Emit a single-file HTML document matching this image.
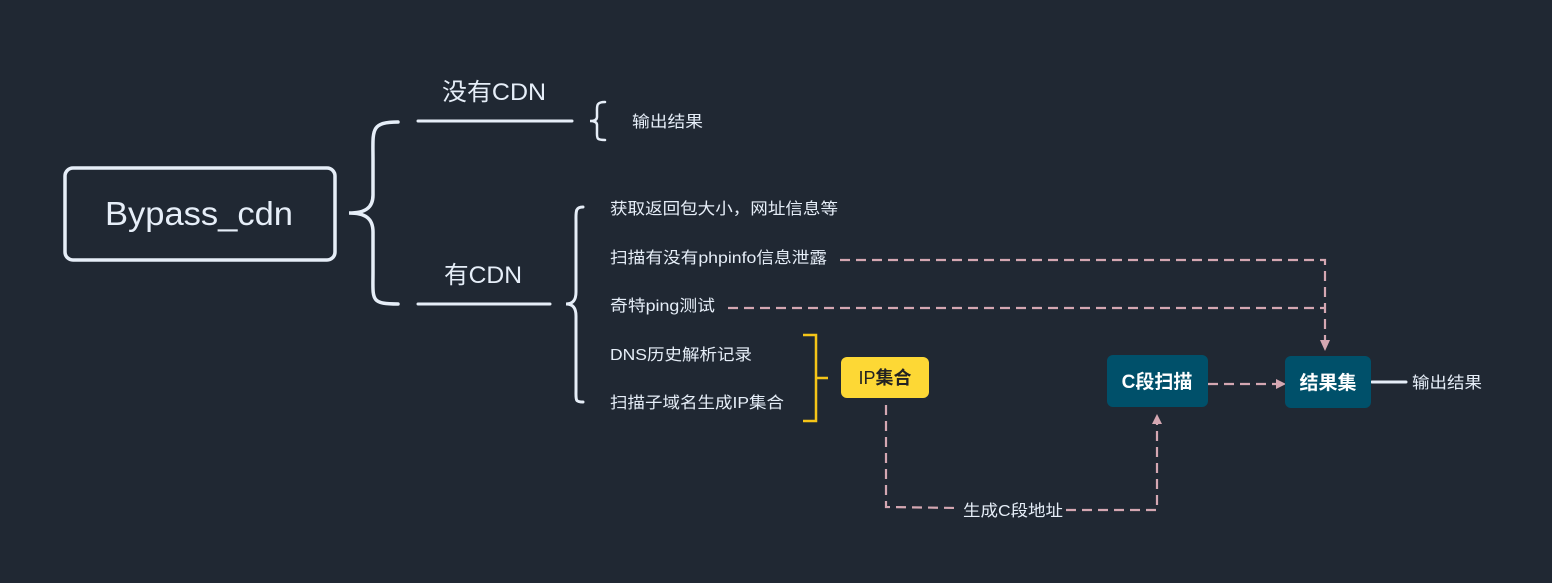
<!DOCTYPE html>
<html><head><meta charset="utf-8"><style>
html,body{margin:0;padding:0;background:#202833;}
svg{display:block;}
text{font-family:"Liberation Sans","Noto Sans CJK SC",sans-serif;}
</style></head><body>
<svg width="1552" height="583" viewBox="0 0 1552 583" xmlns="http://www.w3.org/2000/svg">
<rect width="1552" height="583" fill="#202833"/>
<g fill="none" stroke="#e6eef8" stroke-linecap="round">
<rect x="65" y="168" width="270" height="92" rx="8" stroke-width="3.5"/>
<path d="M398 122 C370 122 373 130 373 160 L373 195 C373 208 365 213 349 213 C365 213 373 218 373 232 L373 272 C373 300 370 304 398 304" stroke-width="3.5"/>
<line x1="418" y1="121" x2="572" y2="121" stroke-width="3"/>
<line x1="418" y1="304" x2="550" y2="304" stroke-width="3"/>
<path d="M605 102 C596 102 597 106 597 112 L597 117 C597 120 594 121 590 121 C594 121 597 122 597 125 L597 131 C597 138 596 140 605 140" stroke-width="2.5"/>
<path d="M583 207 C575 207 576 212 576 222 L576 292 C576 300 573 304 566 304 C573 304 576 308 576 316 L576 390 C576 400 575 402 583 402" stroke-width="3"/>
<line x1="1372" y1="382" x2="1406" y2="382" stroke-width="3"/>
</g>
<path d="M803 335 L816 335 L816 421 L803 421 M816 378 L828 378" fill="none" stroke="#f5c518" stroke-width="2.5"/>
<g fill="#e6eef8">
<text x="105" y="225" font-size="33" textLength="188" lengthAdjust="spacingAndGlyphs">Bypass_cdn</text>
<text x="442" y="100" font-size="24" textLength="104" lengthAdjust="spacingAndGlyphs">没有CDN</text>
<text x="444" y="283" font-size="24" textLength="78" lengthAdjust="spacingAndGlyphs">有CDN</text>
<text x="632" y="127" font-size="16" textLength="71" lengthAdjust="spacingAndGlyphs">输出结果</text>
<text x="610" y="214" font-size="16" textLength="228" lengthAdjust="spacingAndGlyphs">获取返回包大小，网址信息等</text>
<text x="610" y="263" font-size="16" textLength="217" lengthAdjust="spacingAndGlyphs">扫描有没有phpinfo信息泄露</text>
<text x="610" y="311" font-size="16" textLength="105" lengthAdjust="spacingAndGlyphs">奇特ping测试</text>
<text x="610" y="360" font-size="16" textLength="142" lengthAdjust="spacingAndGlyphs">DNS历史解析记录</text>
<text x="610" y="408" font-size="16" textLength="174" lengthAdjust="spacingAndGlyphs">扫描子域名生成IP集合</text>
<text x="1412" y="388" font-size="16" textLength="70" lengthAdjust="spacingAndGlyphs">输出结果</text>
</g>
<g fill="none" stroke="#d4a7b2" stroke-width="2.2" stroke-dasharray="10 6">
<path d="M840 260 L1325 260 L1325 342"/>
<path d="M728 308 L1325 308"/>
<path d="M1208 384 L1278 384"/>
<path d="M886 405 L886 507 L958 508"/>
<path d="M1066 510 L1157 510 L1157 424"/>
</g>
<g fill="#d4a7b2">
<path d="M1320 340 L1330 340 L1325 351 Z"/>
<path d="M1276 379 L1276 389 L1286 384 Z"/>
<path d="M1152 424 L1162 424 L1157 414 Z"/>
</g>
<rect x="841" y="357" width="88" height="41" rx="6" fill="#fdd835"/>
<text x="885" y="384" font-size="18" text-anchor="middle" fill="#222"><tspan>IP</tspan><tspan font-weight="bold">集合</tspan></text>
<rect x="1107" y="355" width="101" height="52" rx="6" fill="#00506a"/>
<text x="1157" y="388" font-size="19" font-weight="bold" text-anchor="middle" fill="#fff">C段扫描</text>
<rect x="1285" y="356" width="86" height="52" rx="6" fill="#00506a"/>
<text x="1328" y="389" font-size="19" font-weight="bold" text-anchor="middle" fill="#fff">结果集</text>
<text x="963" y="516" font-size="16" fill="#e6eef8" textLength="100" lengthAdjust="spacingAndGlyphs">生成C段地址</text>
</svg>
</body></html>
